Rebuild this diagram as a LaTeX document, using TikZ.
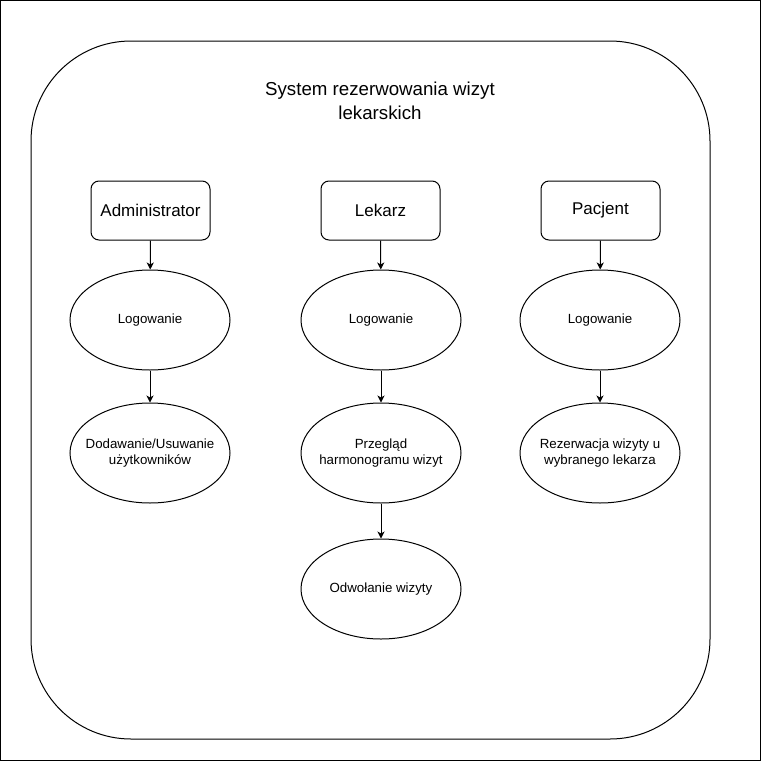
\documentclass[tikz,border=0pt]{standalone}
\usepackage{fontspec}
\setmainfont{Liberation Sans}
\usetikzlibrary{arrows.meta,shapes.geometric}
\newcommand{\uctext}[1]{\makebox[0pt]{\begin{tabular}{@{}c@{}}#1\end{tabular}}}
\begin{document}
\begin{tikzpicture}[x=1pt,y=-1pt,
  line width=1pt,
  actor/.style={draw,rounded corners=8pt,minimum width=119pt,minimum height=59pt,inner sep=0pt,font=\fontsize{17}{20}\selectfont},
  usecase/.style={draw,ellipse,minimum width=160pt,minimum height=100pt,inner sep=0pt,font=\fontsize{13.3}{16.5}\selectfont},
  flow/.style={-{Stealth[length=7pt,width=7pt,inset=2pt]}}
]
\useasboundingbox (0,0) rectangle (761,769);
\draw (0.5,0.5) rectangle (760.5,760.5);
\draw[rounded corners=100pt] (31,41) rectangle (710,739);
\node[align=center,font=\fontsize{18.7}{24}\selectfont] (title) at (380,101) {System rezerwowania wizyt\\lekarskich};

\node[actor] (adm) at (150.5,210.5) {Administrator};
\node[actor] (lek) at (380.5,210.5) {Lekarz};
\node[actor] (pac) at (600.5,210.5) {Pacjent};

\node[usecase] (log1) at (150,320) {\uctext{Logowanie}};
\node[usecase] (log2) at (381,320) {\uctext{Logowanie}};
\node[usecase] (log3) at (600,320) {\uctext{Logowanie}};

\node[usecase] (uz) at (150,453) {\uctext{Dodawanie/Usuwanie\\użytkowników}};
\node[usecase] (prz) at (381,453) {\uctext{Przegląd\\harmonogramu wizyt}};
\node[usecase] (rez) at (600,453) {\uctext{Rezerwacja wizyty u\\wybranego lekarza}};
\node[usecase] (odw) at (381,589) {\uctext{Odwołanie wizyty}};

\draw[flow] (adm) -- (log1);
\draw[flow] (lek) -- (log2);
\draw[flow] (pac) -- (log3);
\draw[flow] (log1) -- (uz);
\draw[flow] (log2) -- (prz);
\draw[flow] (log3) -- (rez);
\draw[flow] (prz) -- (odw);
\end{tikzpicture}
\end{document}
